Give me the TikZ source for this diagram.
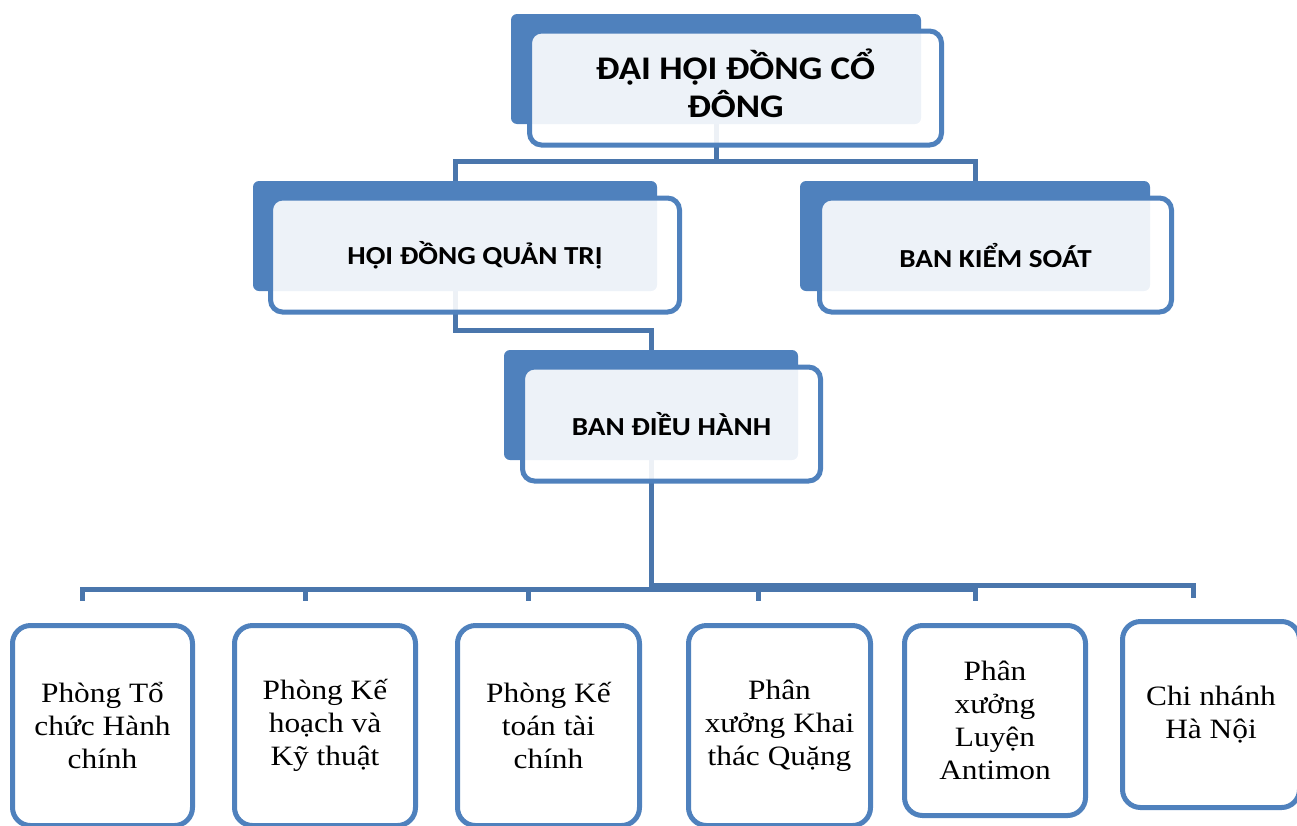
\documentclass[tikz,border=0pt]{standalone}
\usepackage{fontspec}
\setmainfont{Liberation Serif}[FakeStretch=1.12]
\newfontfamily\headfont{Carlito}[FakeStretch=1.12]
\usetikzlibrary{backgrounds}
\definecolor{boxblue}{HTML}{4F81BD}
\definecolor{lineblue}{HTML}{4A76AC}

\begin{document}
\begin{tikzpicture}[
    x=1pt, y=-1pt,
    back/.style={fill=boxblue, rounded corners=6pt, inner sep=0pt, minimum height=110pt},
    front/.style={draw=boxblue, line width=5pt, fill=white, fill opacity=0.9, text opacity=1,
      rounded corners=12pt, inner sep=0pt, align=center, minimum height=114pt,
      font=\headfont\bfseries\fontsize{26}{31}\selectfont},
    title/.style={font=\headfont\bfseries\fontsize{33}{38}\selectfont, text depth=9pt},
    unit/.style={draw=boxblue, line width=5pt, fill=white, rounded corners=18pt, inner sep=0pt,
      align=center, font=\fontsize{28}{33}\selectfont},
    conn/.style={draw=lineblue, line width=5pt}
  ]
  \useasboundingbox (0,0) rectangle (1297,825);

  \node[back, minimum width=410pt] (dhb) at (716,69) {};
  \node[front, title, minimum width=412pt] (dh) at (735.5,88) {ĐẠI HỘI ĐỒNG CỔ\\ĐÔNG};

  \node[back, minimum width=404pt] (qtb) at (455,236) {};
  \node[front, minimum width=409pt] (qt) at (475,255) {HỘI ĐỒNG QUẢN TRỊ};

  \node[back, minimum width=350pt] (ksb) at (975,236) {};
  \node[front, minimum width=352pt] (ks) at (995.5,255) {BAN KIỂM SOÁT};

  \node[back, minimum width=294pt] (dhhb) at (651,405) {};
  \node[front, minimum width=298pt] (dhh) at (671.5,424) {BAN ĐIỀU HÀNH};

  \node[unit, minimum width=180pt, minimum height=200pt] (p1) at (102.5,725.5) {Phòng Tổ\\chức Hành\\chính};
  \node[unit, minimum width=181pt, minimum height=200pt] (p2) at (325,725.5) {Phòng Kế\\hoạch và\\Kỹ thuật};
  \node[unit, minimum width=182pt, minimum height=200pt] (p3) at (548.5,725.5) {Phòng Kế\\toán tài\\chính};
  \node[unit, minimum width=182pt, minimum height=200pt] (p4) at (779.5,725.5) {Phân\\xưởng Khai\\thác Quặng};
  \node[unit, minimum width=181pt, minimum height=190pt] (p5) at (995,720.5) {Phân\\xưởng\\Luyện\\Antimon};
  \node[unit, minimum width=177pt, minimum height=186pt] (p6) at (1211,714.5) {Chi nhánh\\Hà Nội};

  \coordinate (d1) at (82.5,601);
  \coordinate (d2) at (305.5,601);
  \coordinate (d3) at (528.5,601);
  \coordinate (d4) at (758.5,601);
  \coordinate (d5) at (975.5,601);
  \coordinate (d6) at (1193.5,598);

  \begin{pgfonlayer}{background}
    \draw[conn] (dhb.south) -- ++(0,37) -| (qtb.north);
    \draw[conn] (dhb.south) -- ++(0,37) -| (ksb.north);
    \draw[conn] (qtb.south) -- ++(0,39.5) -| (dhhb.north);
    \foreach \i in {1,...,5}
      \draw[conn] (dhhb.south) -- ++(0,129) -| (d\i);
    \draw[conn] (dhhb.south) -- ++(0,125) -| (d6);
  \end{pgfonlayer}
\end{tikzpicture}
\end{document}
